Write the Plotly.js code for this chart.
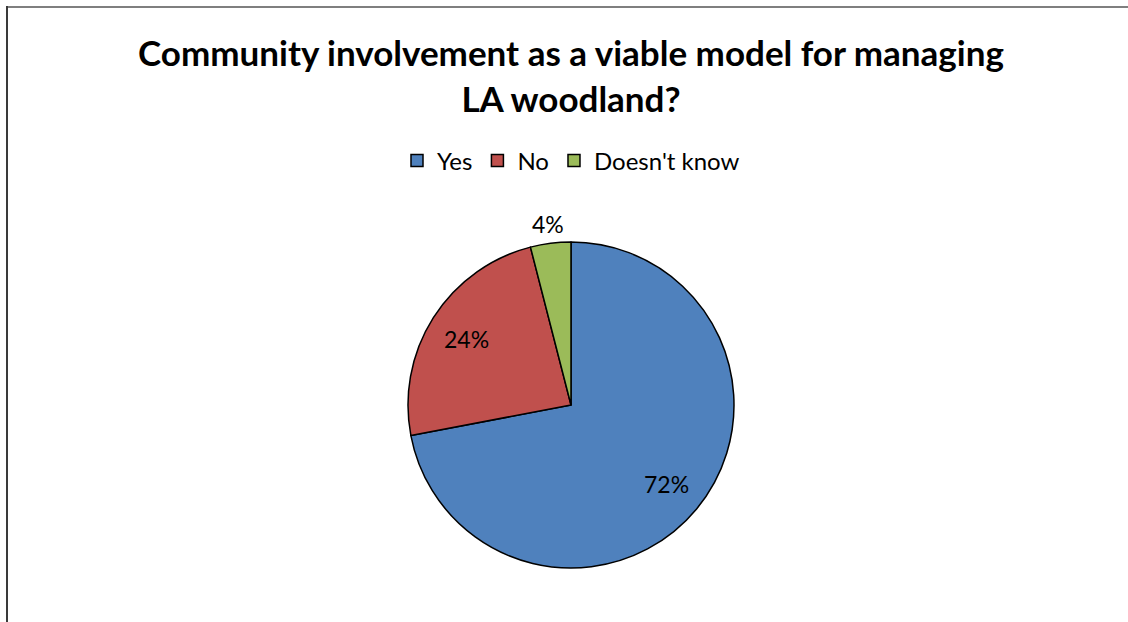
<!DOCTYPE html>
<html>
<head>
<meta charset="utf-8">
<script src="https://cdn.plot.ly/plotly-3.0.1.min.js"></script>
<style>
  html, body { margin: 0; padding: 0; background: #fff; }
  #wrap { position: relative; width: 1128px; height: 622px; overflow: hidden; }
  #chart { position: absolute; left: 0; top: 0; width: 1128px; height: 622px; }
  #topline { position: absolute; left: 6px; top: 6px; width: 1122px; height: 2px; background: #7f7f7f; }
  #leftline { position: absolute; left: 6px; top: 6px; width: 2px; height: 616px; background: #3a3a3a; }
</style>
</head>
<body>
<div id="wrap">
  <div id="chart"></div>
  <div id="topline"></div>
  <div id="leftline"></div>
</div>
<script>
const categories = ["Yes", "No", "Doesn't know"];
const shares = [72, 24, 4];
const sliceColors = ["#4F81BD", "#C0504D", "#9BBB59"];
const labelInside = [true, true, false];
const chartTitle = "Community involvement as a viable model for managing<br>LA woodland?";

const W = 1128, H = 622;
const cx = 571, cy = 405, R = 163;
const ml = 14;
const pw = W - ml;
const FONT = "Lato, 'Open Sans', sans-serif";

const trace = {
  type: "pie",
  labels: categories,
  values: shares,
  sort: false,
  direction: "clockwise",
  rotation: 0,
  marker: { colors: sliceColors, line: { color: "#000000", width: 1.5 } },
  textinfo: "none",
  hoverinfo: "label+percent",
  domain: {
    x: [(cx - R - ml) / pw, (cx + R - ml) / pw],
    y: [(H - (cy + R)) / H, (H - (cy - R)) / H]
  },
  showlegend: true
};

// data labels placed on each slice's bisector, derived from the shares
const total = shares.reduce((a, b) => a + b, 0);
let cum = 0;
const annotations = shares.map((v, i) => {
  const mid = (cum + v / 2) / total * 2 * Math.PI;
  cum += v;
  const rr = labelInside[i] ? 0.76 * R : 1.12 * R;
  const px = cx + rr * Math.sin(mid);
  const py = cy - rr * Math.cos(mid);
  return {
    text: Math.round(v / total * 100) + "%",
    x: (px - ml) / pw,
    y: 1 - py / H,
    xref: "paper",
    yref: "paper",
    xanchor: "center",
    yanchor: "middle",
    showarrow: false,
    font: { family: FONT, size: 23, color: "#000000" }
  };
});

const layout = {
  width: W,
  height: H,
  margin: { l: ml, r: 0, t: 0, b: 0 },
  paper_bgcolor: "#ffffff",
  plot_bgcolor: "#ffffff",
  font: { family: FONT, color: "#000000" },
  title: {
    text: chartTitle,
    font: { family: FONT, size: 35, color: "#000000", weight: "bold" },
    x: 0.5,
    xref: "paper",
    xanchor: "center",
    y: 1 - 66 / H,
    yref: "container",
    yanchor: "middle"
  },
  legend: {
    orientation: "h",
    x: 0.5,
    xanchor: "center",
    y: 1 - 161 / H,
    yanchor: "middle",
    font: { family: FONT, size: 24, color: "#000000" },
    traceorder: "normal",
    itemwidth: 30
  },
  annotations: annotations
};

Plotly.newPlot("chart", [trace], layout, { displayModeBar: false, staticPlot: true });
</script>
</body>
</html>
